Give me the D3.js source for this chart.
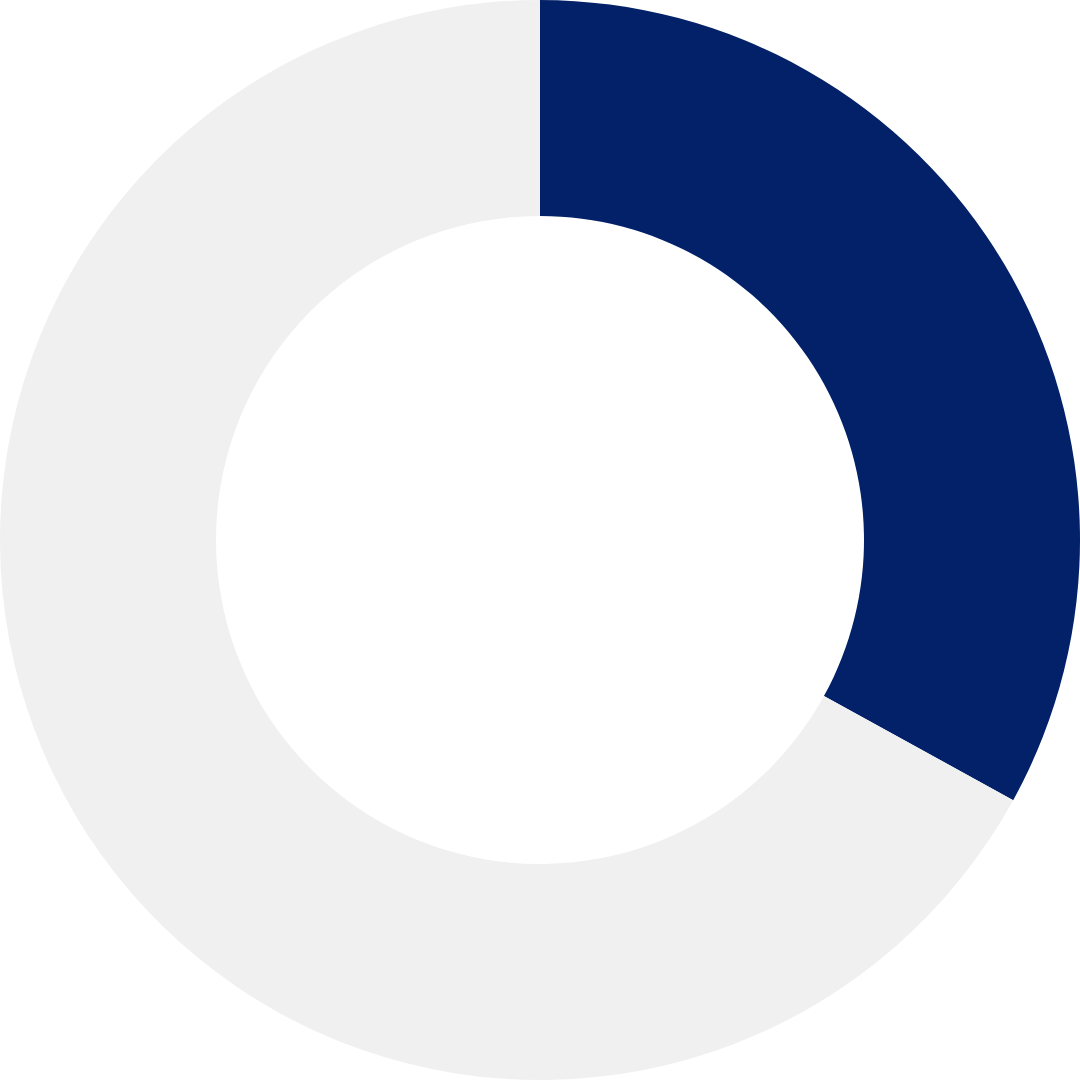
<!DOCTYPE html>
<html>
  <head>
    <meta charset="utf-8" />
    <title>Donut</title>
    <script src="https://d3js.org/d3.v7.min.js"></script>
    <style>
      body {
        margin: 0px;
        background-color: white;
      }
    </style>
</head>
<body>
    <svg id="donut"></svg>
    <script>
        // share shown, and the remainder
        var categories = ["value", "rest"];
        var values = [33, 67];
        var colors = ["#022169", "#f0f0f0"];

        var width = 1080;
        var height = 1080;
        var outer = 540;
        var inner = 324;

        var svg = d3.select("#donut")
            .attr("width", width)
            .attr("height", height);

        var g = svg.append("g")
            .attr("transform", "translate(" + width / 2 + "," + height / 2 + ")");

        var pie = d3.pie().sort(null);
        var arc = d3.arc().innerRadius(inner).outerRadius(outer);

        g.selectAll("path")
          .data(pie(values))
          .enter().append("path")
            .attr("d", arc)
            .attr("fill", function(d, i){ return colors[i]; });
    </script>
</body>
</html>
